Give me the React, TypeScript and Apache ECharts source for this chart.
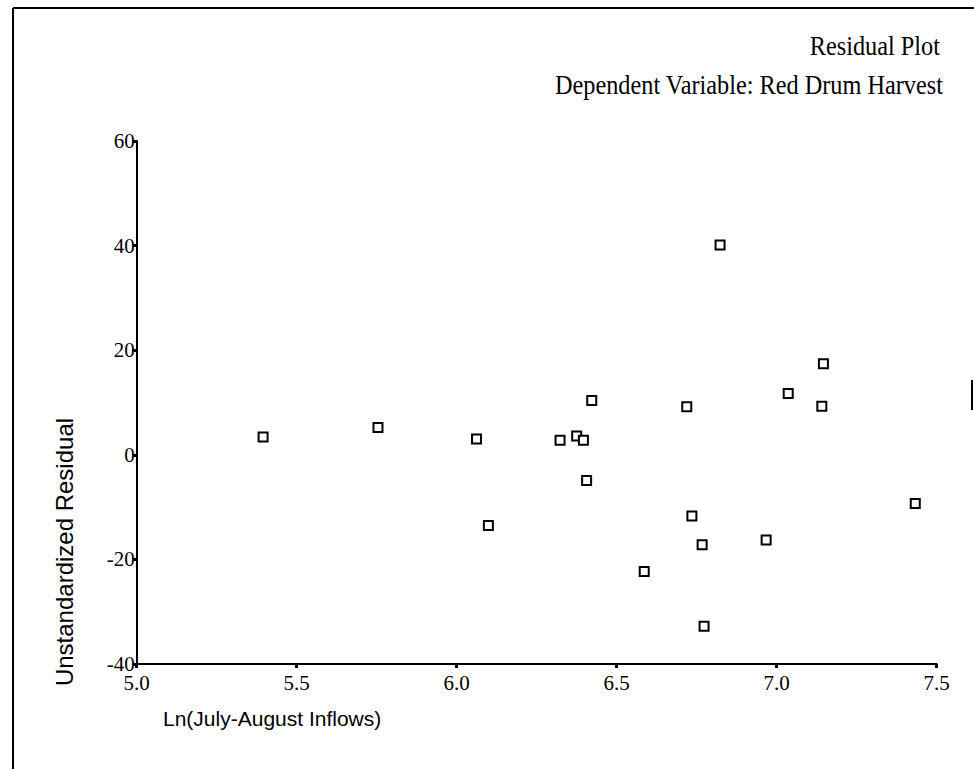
import React, { useEffect, useRef } from "react";
import * as echarts from "echarts";

const inflowLn = [
  5.395, 5.754, 6.062, 6.099, 6.323, 6.375, 6.396, 6.406, 6.422, 6.586,
  6.719, 6.735, 6.767, 6.773, 6.823, 6.967, 7.036, 7.141, 7.146, 7.433,
];
const residuals = [
  3.4, 5.2, 3.0, -13.5, 2.8, 3.6, 2.8, -4.9, 10.4, -22.3,
  9.2, -11.7, -17.2, -32.8, 40.1, -16.3, 11.7, 9.3, 17.4, -9.3,
];
const xTicks = [5.0, 5.5, 6.0, 6.5, 7.0, 7.5];
const yTicks = [-40, -20, 0, 20, 40, 60];
const titleMain = "Residual Plot";
const titleSub = "Dependent Variable: Red Drum Harvest";
const xName = "Ln(July-August Inflows)";
const yName = "Unstandardized Residual";

export default function App() {
  const ref = useRef<HTMLDivElement>(null);
  useEffect(() => {
    if (!ref.current) return;
    const chart = echarts.init(ref.current, null, { renderer: "svg" });
    const serif = "Liberation Serif";
    const sans = "Liberation Sans";
    chart.setOption({
      animation: false,
      backgroundColor: "#ffffff",
      grid: { left: 136.7, right: 974 - 936.7, top: 141, bottom: 769 - 664 },
      xAxis: {
        type: "value",
        min: xTicks[0],
        max: xTicks[xTicks.length - 1],
        interval: 0.5,
        splitLine: { show: false },
        axisLine: { show: true, onZero: false, lineStyle: { color: "#000", width: 2 } },
        axisTick: { show: true, length: 4, lineStyle: { color: "#000", width: 3 } },
        axisLabel: {
          color: "#000",
          fontFamily: serif,
          fontSize: 21,
          margin: 8,
          formatter: (v: number) => v.toFixed(1),
        },
      },
      yAxis: {
        type: "value",
        min: yTicks[0],
        max: yTicks[yTicks.length - 1],
        interval: 20,
        splitLine: { show: false },
        axisLine: { show: true, onZero: false, lineStyle: { color: "#000", width: 2 } },
        axisTick: { show: true, length: 4, lineStyle: { color: "#000", width: 3 } },
        axisLabel: { color: "#000", fontFamily: serif, fontSize: 21, margin: 2 },
      },
      series: [
        {
          type: "scatter",
          data: inflowLn.map((x, i) => [x, residuals[i]]),
          symbol: "rect",
          symbolSize: 9,
          itemStyle: { color: "#fff", borderColor: "#000", borderWidth: 2, opacity: 1 },
        },
      ],
      graphic: [
        {
          type: "text",
          x: 940,
          y: 46,
          scaleX: 0.9,
          style: {
            text: titleMain,
            font: `27px "${serif}"`,
            fill: "#000",
            align: "right",
            verticalAlign: "middle",
          },
        },
        {
          type: "text",
          x: 943,
          y: 85,
          scaleX: 0.9,
          style: {
            text: titleSub,
            font: `27px "${serif}"`,
            fill: "#000",
            align: "right",
            verticalAlign: "middle",
          },
        },
        {
          type: "text",
          x: 163,
          y: 718,
          style: { text: xName, font: `21px "${sans}"`, fill: "#000", verticalAlign: "middle" },
        },
        {
          type: "text",
          x: 64,
          y: 552,
          rotation: Math.PI / 2,
          style: {
            text: yName,
            font: `24px "${sans}"`,
            fill: "#000",
            align: "center",
            verticalAlign: "middle",
          },
        },
        {
          type: "line",
          shape: { x1: 13, y1: 8, x2: 974, y2: 8 },
          style: { stroke: "#000", lineWidth: 2 },
        },
        {
          type: "line",
          shape: { x1: 13, y1: 8, x2: 13, y2: 769 },
          style: { stroke: "#000", lineWidth: 2 },
        },
        {
          type: "line",
          shape: { x1: 972, y1: 380, x2: 972, y2: 410 },
          style: { stroke: "#000", lineWidth: 2 },
        },
      ],
    });
    return () => chart.dispose();
  }, []);
  return (
    <div
      ref={ref}
      style={{ position: "fixed", left: 0, top: 0, width: 974, height: 769, background: "#fff" }}
    />
  );
}
